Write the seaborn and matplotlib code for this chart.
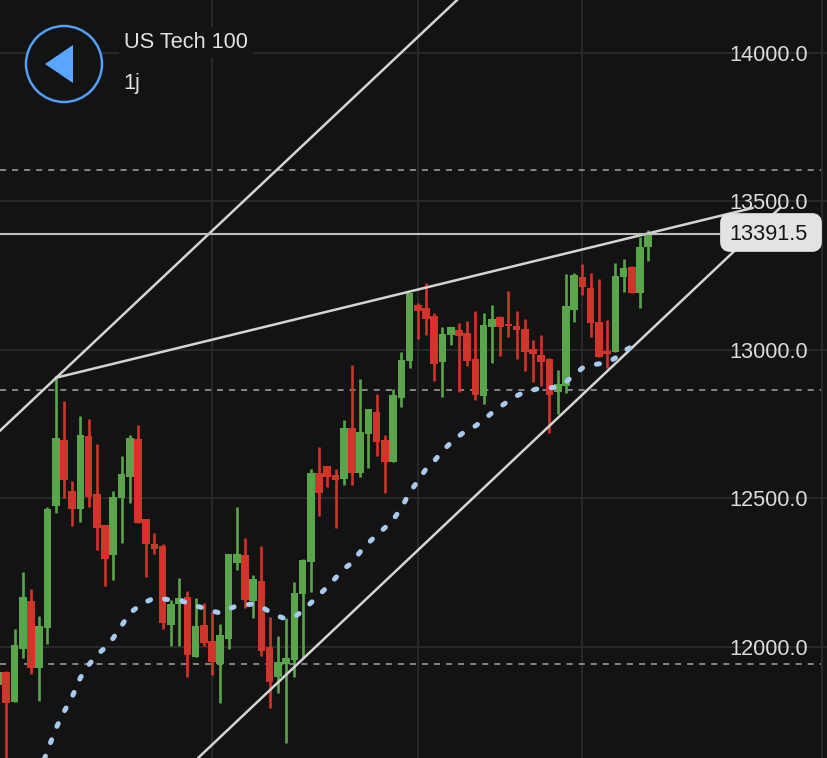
import matplotlib
matplotlib.use('Agg')
import matplotlib.pyplot as plt
from matplotlib.patches import Circle, FancyBboxPatch, Polygon
import numpy as np
import pandas as pd
import seaborn as sns

# bougies, de l'indice -1 (coupee a gauche) a 78
opens = [11872, 11916, 11815, 11993, 12155, 11929, 12064, 12475, 12697, 12525,
         12465, 12710, 12515, 12411, 12310, 12502, 12572, 12700, 12431, 12347,
         12340, 12074, 12145, 12168, 11966, 12074, 12020, 11943, 12027, 12283,
         12310, 12155, 12222, 12000, 11899, 11943, 11956, 12178, 12286, 12586,
         12609, 12579, 12566, 12737, 12586, 12717, 12791, 12697, 12623, 12838,
         12963, 13152, 13141, 13114, 12960, 13051, 13067, 13057, 12970, 12845,
         13077, 13111, 13088, 13081, 13071, 13003, 12983, 12970, 12859, 12879,
         13135, 13246, 13209, 13094, 12997, 12993, 13246, 13279, 13192, 13347]
highs = [11920, 11919, 12061, 12253, 12195, 12104, 12471, 12906, 12828, 12559,
         12778, 12768, 12684, 12411, 12525, 12643, 12714, 12747, 12431, 12384,
         12347, 12158, 12232, 12189, 12165, 12148, 12118, 12077, 12313, 12471,
         12367, 12242, 12340, 12101, 12037, 12098, 12219, 12296, 12599, 12673,
         12609, 12599, 12764, 12949, 12902, 12801, 12852, 12714, 12869, 12993,
         13192, 13158, 13226, 13125, 13077, 13077, 13091, 13098, 13131, 13125,
         13152, 13114, 13199, 13131, 13104, 13034, 13051, 12973, 12933, 13256,
         13259, 13290, 13259, 13239, 13101, 13293, 13306, 13283, 13380, 13404]
lows = [11860, 11586, 11815, 11963, 11909, 11818, 12010, 12451, 12502, 12407,
        12421, 12471, 12327, 12205, 12226, 12350, 12485, 12418, 12236, 12313,
        12061, 12003, 12003, 11899, 11966, 12003, 11906, 11811, 11993, 12259,
        12131, 12098, 11970, 11795, 11845, 11677, 11899, 11963, 12185, 12441,
        12539, 12401, 12545, 12545, 12572, 12603, 12643, 12519, 12623, 12808,
        12939, 13037, 13051, 12896, 12842, 13017, 12859, 12946, 12832, 12818,
        12956, 12980, 13044, 12970, 12929, 12892, 12879, 12721, 12785, 12855,
        13094, 13185, 13044, 12976, 12939, 12993, 13195, 13192, 13141, 13300]
closes = [11916, 11811, 12007, 12168, 11929, 12071, 12465, 12704, 12562, 12465,
          12714, 12505, 12401, 12296, 12505, 12582, 12704, 12418, 12347, 12330,
          12081, 12145, 12165, 11973, 12071, 12013, 11949, 12040, 12313, 12313,
          12158, 12229, 11987, 11882, 11949, 11963, 12182, 12293, 12586, 12519,
          12572, 12562, 12737, 12586, 12724, 12801, 12690, 12623, 12848, 12966,
          13192, 13131, 13104, 12953, 13054, 13077, 13047, 12963, 12848, 13084,
          13104, 13077, 13081, 13067, 12993, 12987, 12960, 12848, 12886, 13148,
          13253, 13212, 13091, 12976, 12987, 13249, 13276, 13192, 13347, 13391.5]

# moyenne mobile, indices 4 a 77
ma_values = [11576, 11650, 11724, 11781, 11832, 11896, 11939, 11973, 11997, 12030,
             12071, 12114, 12135, 12152, 12165, 12162, 12158, 12158, 12148, 12138,
             12131, 12121, 12114, 12128, 12138, 12141, 12145, 12135, 12118, 12104,
             12094, 12101, 12121, 12148, 12175, 12202, 12232, 12263, 12283, 12320,
             12350, 12377, 12401, 12428, 12468, 12519, 12559, 12599, 12626, 12660,
             12687, 12710, 12731, 12744, 12764, 12788, 12808, 12828, 12845, 12859,
             12865, 12872, 12872, 12875, 12892, 12916, 12939, 12949, 12953, 12956,
             12973, 12997, 13010, 13037]

# lignes tracees a la main sur le graphique
channel_top_x = [-0.8, 55]
channel_top_y = [12727, 14184]
resistance_x = [6, 90.7]
resistance_y = [12906, 13478]
channel_low_x = [23.3, 94]
channel_low_y = [11626, 13478]

levels = [13606, 12865, 11943]
last_price = 13391.5
price_ticks = [12000, 12500, 13000, 13500, 14000]
time_ticks = [25, 50, 70, 99.1]

bg = '#131314'
green = '#5aa44c'
red = '#d0352b'
line_col = '#d4d4d2'
grid_col = '#2b2b2e'
dash_col = '#85858a'
blue = '#539ff5'
fnt = 'Liberation Sans'
txt_size = 15.7

sns.set_theme(style='dark', rc={'axes.facecolor': bg, 'figure.facecolor': bg,
                                'axes.grid': True, 'grid.color': grid_col,
                                'grid.linewidth': 1.3})
plt.rcParams['font.family'] = [fnt, 'DejaVu Sans']

df = pd.DataFrame({'i': np.arange(-1, 79), 'open': opens, 'high': highs, 'low': lows, 'close': closes})
df['col'] = np.where(df['close'] >= df['open'], green, red)
df_ma = pd.DataFrame({'i': np.arange(4, 78), 'ma': ma_values})

fig = plt.figure(figsize=(8.28, 7.58), dpi=100)
ax = fig.add_axes([0, 0, 1, 1])
ax.set_xlim(-0.765, 99.84)
ax.set_ylim(11626, 14178)
ax.set_axisbelow(True)

for lv in levels:
    ax.axhline(lv, xmax=821 / 828, color=dash_col, lw=1.4, dashes=(3.1, 3.1), zorder=1)

ax.vlines(df['i'], df['low'], df['high'], colors=df['col'], lw=1.9, zorder=2)
ax.bar(df['i'], (df['close'] - df['open']).abs(), bottom=df[['open', 'close']].min(axis=1),
       width=0.93, color=df['col'], linewidth=0, zorder=3)

for xs, ys in [(channel_top_x, channel_top_y), (resistance_x, resistance_y), (channel_low_x, channel_low_y)]:
    sns.lineplot(x=xs, y=ys, ax=ax, color=line_col, lw=1.8, estimator=None, zorder=4)

sns.lineplot(data=df_ma, x='i', y='ma', ax=ax, color='#a9caef', lw=3.6, estimator=None,
             dash_capstyle='round', linestyle=(0, (0.6, 2.9)), zorder=5)

ax.axhline(last_price, xmax=720 / 828, color='#bfbfbd', lw=1.5, zorder=4)

ax.set_xticks(time_ticks)
ax.set_yticks(price_ticks)
ax.set_yticklabels(['%.1f' % p for p in price_ticks], ha='right')
ax.yaxis.tick_right()
ax.tick_params(axis='y', length=0, pad=-14.5, labelsize=txt_size, labelcolor='#dcdcdc')
ax.tick_params(axis='x', length=0, labelbottom=False)
for lab in ax.get_yticklabels():
    lab.set_zorder(8)
ax.set_xlabel('')
ax.set_ylabel('')
sns.despine(ax=ax, left=True, right=True, top=True, bottom=True)

# habillage de l'appli, en pixels de l'image
ui = fig.add_axes([0, 0, 1, 1], facecolor='none')
ui.set_xlim(0, 828)
ui.set_ylim(758, 0)
ui.axis('off')
ui.add_patch(Circle((64, 64), 38, facecolor=bg, edgecolor=blue, lw=1.8))
ui.add_patch(Polygon([(45, 64), (73, 45), (73, 83)], closed=True, facecolor='#5aa5ff', edgecolor='none'))
ui.text(124, 42.5, 'US Tech 100', fontsize=txt_size, color='#e2e2e2', va='center', ha='left',
        bbox=dict(facecolor=bg, edgecolor='none', pad=4))
ui.text(123, 83.5, '1j', fontsize=txt_size, color='#e2e2e2', va='center', ha='left')
ui.add_patch(FancyBboxPatch((725, 218), 92, 29, boxstyle='round,pad=0,rounding_size=5', mutation_aspect=1,
                            facecolor='#e3e3e3', edgecolor='#e3e3e3', lw=7))
ui.text(808, 235, '%.1f' % last_price, fontsize=txt_size, color='#151515', va='center', ha='right')

fig.savefig('out.png', dpi=100, facecolor=bg)
